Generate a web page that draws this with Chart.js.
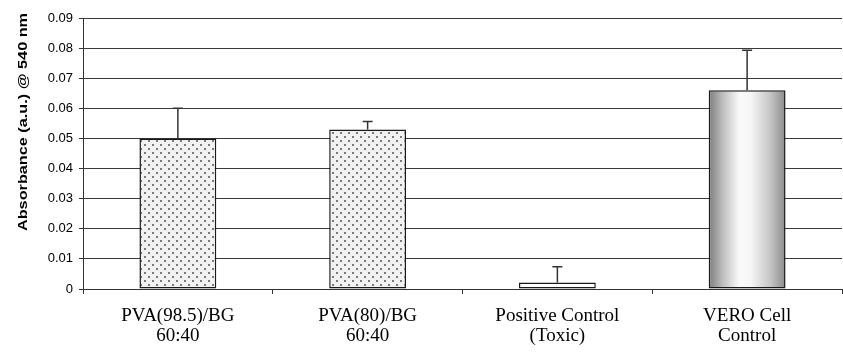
<!DOCTYPE html>
<html>
<head>
<meta charset="utf-8">
<title>Absorbance @ 540 nm</title>
<script src="https://cdn.jsdelivr.net/npm/chart.js@4.4.1/dist/chart.umd.min.js"></script>
<style>
  html, body { margin: 0; padding: 0; background: #fff; }
  #wrap { width: 843px; height: 356px; }
</style>
</head>
<body>
<div id="wrap"><canvas id="chart" width="843" height="356"></canvas></div>
<script>
// ─── Data ────────────────────────────────────────────────────────────────────
const categories = [
  ['PVA(98.5)/BG', '60:40'],
  ['PVA(80)/BG', '60:40'],
  ['Positive Control', '(Toxic)'],
  ['VERO Cell', 'Control']
];
const absorbance = [0.050, 0.053, 0.0022, 0.066];
const errorUp = [0.010, 0.0026, 0.0052, 0.0133];
const yMin = 0;
const yMax = 0.09;
const yStep = 0.01;
const yTitle = 'Absorbance (a.u.) @ 540 nm';

// ─── Styles ──────────────────────────────────────────────────────────────────
const fillKinds = ['dots', 'dots', 'plain', 'shaded'];
const BAR_PCT = 0.405;
const LINE = '#333';

function dotPattern() {
  const c = document.createElement('canvas');
  c.width = 8; c.height = 8;
  const g = c.getContext('2d');
  g.fillStyle = '#f1f1f1';
  g.fillRect(0, 0, 8, 8);
  g.fillStyle = '#7a7a7a';
  g.fillRect(0, 0, 2, 2);
  g.fillRect(4, 4, 2, 2);
  return g.createPattern(c, 'repeat');
}

function barFill(ctx) {
  const kind = fillKinds[ctx.dataIndex];
  const chart = ctx.chart;
  if (kind === 'dots') return dotPattern();
  if (kind === 'plain') return '#ffffff';
  if (!chart.chartArea) return '#c0c0c0';
  const xs = chart.scales.x;
  const cx = xs.getPixelForValue(ctx.dataIndex);
  const half = xs.width / categories.length * BAR_PCT / 2;
  const grad = chart.ctx.createLinearGradient(cx - half, 0, cx + half, 0);
  grad.addColorStop(0, '#7c7c7c');
  grad.addColorStop(0.18, '#bdbdbd');
  grad.addColorStop(0.4, '#fafafa');
  grad.addColorStop(0.55, '#f6f6f6');
  grad.addColorStop(0.8, '#c6c6c6');
  grad.addColorStop(1, '#8a8a8a');
  return grad;
}

// ─── Error bars (upper only) ─────────────────────────────────────────────────
const errorBars = {
  id: 'errorBars',
  afterDatasetsDraw(chart) {
    const meta = chart.getDatasetMeta(0);
    const ys = chart.scales.y;
    const c = chart.ctx;
    c.save();
    c.strokeStyle = LINE;
    c.lineWidth = 1.5;
    meta.data.forEach((bar, i) => {
      const top = ys.getPixelForValue(absorbance[i] + errorUp[i]);
      c.beginPath();
      c.moveTo(bar.x, bar.y);
      c.lineTo(bar.x, top);
      c.moveTo(bar.x - 5, top);
      c.lineTo(bar.x + 5, top);
      c.stroke();
    });
    c.restore();
  }
};

// ─── Y title (stretched along its length like the original) ──────────────────
const yTitlePlugin = {
  id: 'yTitle',
  afterDraw(chart) {
    const c = chart.ctx;
    c.save();
    c.translate(chart.scales.y.left + 23, 122);
    c.rotate(-Math.PI / 2);
    c.scale(1.25, 1);
    c.font = 'bold 13px "Liberation Sans", Arial, sans-serif';
    c.fillStyle = '#000';
    c.textAlign = 'center';
    c.textBaseline = 'middle';
    c.fillText(yTitle, 0, 0);
    c.restore();
  }
};

// ─── Chart ───────────────────────────────────────────────────────────────────
new Chart(document.getElementById('chart'), {
  type: 'bar',
  data: {
    labels: categories,
    datasets: [{
      data: absorbance,
      backgroundColor: barFill,
      borderColor: '#1a1a1a',
      borderWidth: 1.5,
      borderSkipped: false,
      barPercentage: BAR_PCT,
      categoryPercentage: 1
    }]
  },
  options: {
    responsive: false,
    animation: false,
    layout: { padding: { top: 18, right: 1, left: 0, bottom: 0 } },
    plugins: { legend: { display: false }, tooltip: { enabled: false } },
    scales: {
      x: {
        offset: true,
        grid: {
          offset: true,
          color: ctx => ctx.index === categories.length ? LINE : 'rgba(0,0,0,0)',
          tickColor: LINE,
          tickLength: 5
        },
        border: { color: LINE, width: 1 },
        ticks: {
          autoSkip: false,
          maxRotation: 0,
          padding: 12,
          color: '#000',
          font: { family: '"Liberation Serif", "Times New Roman", serif', size: 19, lineHeight: 1.05 }
        },
        afterFit: s => { s.height = 67; }
      },
      y: {
        min: yMin,
        max: yMax,
        grid: { color: '#3a3a3a', tickColor: LINE, tickLength: 4 },
        border: { color: LINE, width: 1 },
        ticks: {
          stepSize: yStep,
          padding: 6,
          color: '#000',
          font: { family: '"Liberation Sans", Arial, sans-serif', size: 13 },
          callback: v => v === 0 ? '0' : v.toFixed(2)
        },
        afterFit: s => { s.width = 83; }
      }
    }
  },
  plugins: [errorBars, yTitlePlugin]
});
</script>
</body>
</html>
